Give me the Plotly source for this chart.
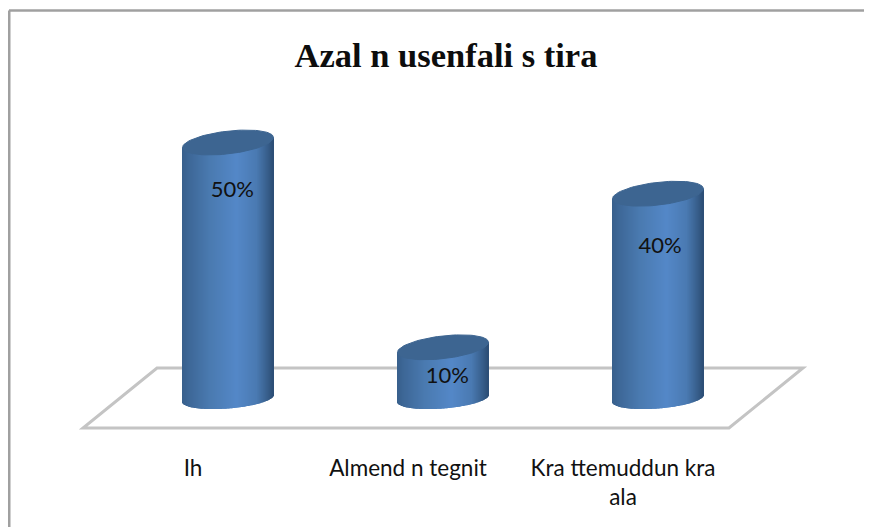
import numpy as np
import plotly.graph_objects as go

categories = ["Ih", "Almend n tegnit", "Kra ttemuddun kra<br>ala"]
values = [50, 10, 40]
value_labels = ["50%", "10%", "40%"]
label_heights = [40.5, 4.2, 29.4]
label_shift = [0.02, 0.02, 0.01]

# the page has an 8px body margin, so everything below is offset by it
OFF = 8
W, H = 872 - OFF, 527 - OFF
PX_X = 215.0      # px per category
PX_Y = 5.12       # px per percent
X0_PX = 193.0 - OFF     # category 0 on screen
Y0_PX = 398.5 - OFF     # value 0 on screen
FLOOR_PX = 430 - OFF

DEPTH = 35 / PX_X            # cylinders sit back from the labels
RAD = 45.5 / PX_X
CAP_B, CAP_K = 11.4 / PX_Y, 5 / PX_Y
BASE_B, BASE_K = 10 / PX_Y, 3.5 / PX_Y

stop_pos = [0.0, 0.08, 0.3, 0.6, 0.82, 0.95, 1.0]
stop_rgb = [(56, 96, 140), (62, 104, 152), (74, 122, 176), (84, 136, 200), (74, 122, 178), (54, 92, 136), (44, 78, 118)]


def strip_color(f):
    c = [np.interp(f, stop_pos, [s[i] for s in stop_rgb]) for i in range(3)]
    return "rgb(%d,%d,%d)" % tuple(c)


fig = go.Figure()

# floor, kept as a shape so it stays behind the bars
floor_x = [(p - OFF - X0_PX) / PX_X for p in (83, 729, 803, 157)]
floor_y = [(Y0_PX - (p - OFF)) / PX_Y for p in (428, 428, 368, 368)]
floor_path = "M " + " L ".join(f"{a} {b}" for a, b in zip(floor_x, floor_y)) + " Z"

# cylinders, one trace of thin strips each, plus the cap
for i, v in enumerate(values):
    cx = i + DEPTH
    n = 91
    f = (np.arange(n) + 0.5) / n
    u = 2 * f - 1
    root = np.sqrt(1 - u ** 2)
    bottom = -BASE_B * root + BASE_K * u
    top = v + CAP_K * u
    fig.add_trace(go.Bar(x=cx + u * RAD, base=bottom, y=top - bottom, width=1.4 / PX_X,
                         marker=dict(color=[strip_color(a) for a in f], line_width=0),
                         hoverinfo="skip", showlegend=False))
    t = np.linspace(0, 2 * np.pi, 90)
    fig.add_trace(go.Scatter(x=cx + RAD * np.cos(t), y=v + CAP_B * np.sin(t) + CAP_K * np.cos(t),
                             mode="lines", fill="toself", fillcolor="#3d6591",
                             line=dict(color="#3d6591", width=1), hoverinfo="skip", showlegend=False))

fig.add_trace(go.Scatter(x=[i + DEPTH + s for i, s in enumerate(label_shift)], y=label_heights, mode="text",
                         text=value_labels, textposition="middle center",
                         textfont=dict(family="Lato", size=22, color="#111111"),
                         hoverinfo="skip", showlegend=False))

fig.update_layout(
    width=W, height=H, autosize=False,
    barmode="overlay",
    margin=dict(l=0, r=0, t=0, b=H - FLOOR_PX),
    paper_bgcolor="white", plot_bgcolor="white",
    title=dict(text="<b>Azal n usenfali s tira</b>", x=(446 - OFF) / W, xanchor="center", y=1 - (55 - OFF) / H, yanchor="middle",
               font=dict(family="Liberation Serif", size=34.5, color="#0d0d0d")),
    xaxis=dict(range=[-X0_PX / PX_X, (W - X0_PX) / PX_X], tickmode="array", tickvals=[0, 1, 2], ticktext=categories,
               showgrid=False, zeroline=False, showline=False, ticks="", ticklabelstandoff=22,
               tickfont=dict(family="Lato", size=22.5, color="#111111")),
    yaxis=dict(range=[(Y0_PX - FLOOR_PX) / PX_Y, Y0_PX / PX_Y], visible=False),
    shapes=[
        dict(type="path", xref="x", yref="y", path=floor_path, line=dict(color="#c4c4c4", width=3), layer="below"),
        dict(type="line", xref="paper", yref="paper", x0=1 / W, x1=1, y0=1 - 2.5 / FLOOR_PX, y1=1 - 2.5 / FLOOR_PX,
             line=dict(color="#a0a0a0", width=2.5), layer="below"),
        dict(type="line", xref="paper", yref="paper", x0=1.25 / W, x1=1.25 / W, y0=1 - 2.5 / FLOOR_PX, y1=-(H - FLOOR_PX) / FLOOR_PX,
             line=dict(color="#a0a0a0", width=2.5), layer="below"),
    ],
)

fig.write_html("out.html")
